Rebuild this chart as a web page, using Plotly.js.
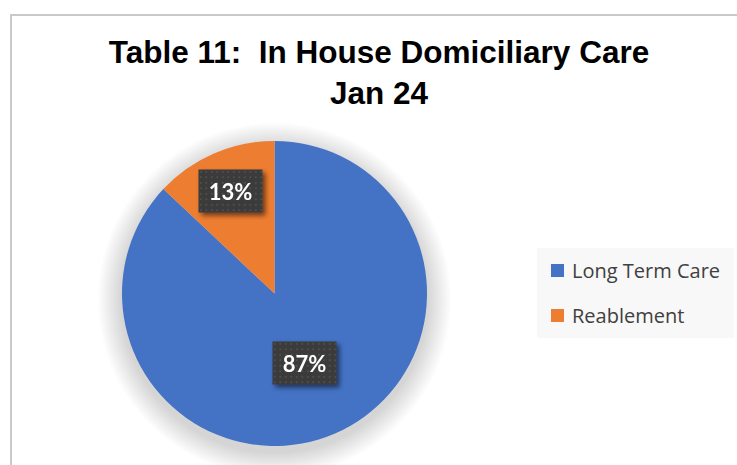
<!DOCTYPE html>
<html>
<head>
<meta charset="utf-8">
<script src="https://cdn.plot.ly/plotly-3.0.1.min.js"></script>
<style>html,body{margin:0;padding:0;background:#fff;}#chart{width:737px;height:465px;}</style>
</head>
<body>
<div id="chart"></div>
<script>
// ---- data ----
const labels = ['Long Term Care', 'Reablement'];
const values = [87, 13];
const colors = ['#4472C4', '#ED7D31'];
const titleLines = ['Table 11:&nbsp; In House Domiciliary Care', 'Jan 24'];

// ---- layout constants (pixels) ----
const W = 737, H = 465;
const pieBox = {x0: 122, x1: 427, y0: 141, y1: 446};
const labelRadius = [0.5, 0.73];
const px = x => x / W;
const py = y => 1 - y / H;

const total = values.reduce((a, b) => a + b, 0);
const cx = (pieBox.x0 + pieBox.x1) / 2, cy = (pieBox.y0 + pieBox.y1) / 2;
const R = Math.min(pieBox.x1 - pieBox.x0, pieBox.y1 - pieBox.y0) / 2;

const trace = {
  type: 'pie',
  labels: labels,
  values: values,
  sort: false,
  direction: 'clockwise',
  rotation: 0,
  marker: {colors: colors, line: {width: 0}},
  textinfo: 'none',
  hoverinfo: 'label+percent',
  domain: {x: [px(pieBox.x0), px(pieBox.x1)], y: [py(pieBox.y1), py(pieBox.y0)]},
  showlegend: false
};

// data labels placed at slice mid-angles
const annotations = [];
let cum = 0;
values.forEach((v, i) => {
  const frac = v / total;
  const mid = (cum + frac / 2) * 2 * Math.PI; // clockwise from 12 o'clock
  cum += frac;
  const r = R * labelRadius[i];
  const x = cx + r * Math.sin(mid);
  const y = cy - r * Math.cos(mid);
  annotations.push({
    xref: 'paper', yref: 'paper', x: px(x), y: py(y),
    xanchor: 'center', yanchor: 'middle', showarrow: false,
    text: '<b>' + Math.round(frac * 100) + '%</b>',
    font: {family: 'Lato, sans-serif', size: 22, color: '#ffffff'},
    bgcolor: '#404040', borderpad: 0, width: 63, height: 42,
    name: 'datalabel'
  });
});

const shapes = [
  {type: 'rect', xref: 'paper', yref: 'paper', x0: px(11), x1: 1.05, y0: -0.05, y1: py(15),
   line: {color: '#c9c9c9', width: 2}, fillcolor: 'rgba(0,0,0,0)', layer: 'below'}
];
// soft shadow behind the pie: stacked translucent discs
const shadow = {steps: 14, spread: 24, dy: 6, alpha: 0.013};
for (let k = 0; k < shadow.steps; k++) {
  const rr = R + shadow.spread * (1 - k / shadow.steps);
  shapes.push({type: 'circle', xref: 'paper', yref: 'paper',
    x0: px(cx - rr), x1: px(cx + rr), y0: py(cy + shadow.dy + rr), y1: py(cy + shadow.dy - rr),
    line: {width: 0}, fillcolor: 'rgba(0,0,0,' + shadow.alpha + ')', layer: 'below'});
}

// manual legend (built from labels / colors)
const leg = {x0: 537, x1: 734, y0: 248, y1: 338, sq: 13, sqX: 551, textX: 570, rows: [270.5, 315.5]};
shapes.push({type: 'rect', xref: 'paper', yref: 'paper', x0: px(leg.x0), x1: px(leg.x1), y0: py(leg.y1), y1: py(leg.y0),
   line: {width: 0}, fillcolor: '#f8f8f8', layer: 'below'});
labels.forEach((lab, i) => {
  const yc = leg.rows[i];
  shapes.push({type: 'rect', xref: 'paper', yref: 'paper',
    x0: px(leg.sqX), x1: px(leg.sqX + leg.sq), y0: py(yc + leg.sq / 2), y1: py(yc - leg.sq / 2),
    line: {width: 0}, fillcolor: colors[i], layer: 'below'});
  annotations.push({xref: 'paper', yref: 'paper', x: px(leg.textX), y: py(yc),
    xanchor: 'left', yanchor: 'middle', showarrow: false, text: lab,
    font: {family: '"Open Sans", sans-serif', size: 20, color: '#404040'}});
});

const layout = {
  width: W, height: H,
  margin: {l: 0, r: 0, t: 0, b: 0},
  paper_bgcolor: '#ffffff',
  showlegend: false,
  title: {
    text: titleLines.join('<br>'),
    font: {family: '"Liberation Sans", Arial, sans-serif', size: 31.5, color: '#000000', weight: 'bold'},
    x: px(379), xanchor: 'center', xref: 'paper',
    y: py(63), yanchor: 'top', yref: 'container'
  },
  shapes: shapes,
  annotations: annotations
};

Plotly.newPlot('chart', [trace], layout, {displayModeBar: false, staticPlot: true}).then(gd => {
  const NS = 'http://www.w3.org/2000/svg';
  const svg = gd.querySelector('svg.main-svg');
  let defs = svg.querySelector('defs');
  if (!defs) { defs = document.createElementNS(NS, 'defs'); svg.insertBefore(defs, svg.firstChild); }
  const fl = document.createElementNS(NS, 'filter');
  fl.setAttribute('id', 'lblShadow');
  fl.setAttribute('filterUnits', 'userSpaceOnUse');
  fl.setAttribute('x', '0'); fl.setAttribute('y', '0');
  fl.setAttribute('width', String(W)); fl.setAttribute('height', String(H));
  fl.innerHTML = '<feGaussianBlur in="SourceAlpha" stdDeviation="2.5"/>' +
    '<feOffset dx="3" dy="3"/>' +
    '<feComponentTransfer><feFuncA type="linear" slope="0.55"/></feComponentTransfer>' +
    '<feMerge><feMergeNode/><feMergeNode in="SourceGraphic"/></feMerge>';
  defs.appendChild(fl);
  const pat = document.createElementNS(NS, 'pattern');
  pat.setAttribute('id', 'dots'); pat.setAttribute('patternUnits', 'userSpaceOnUse');
  pat.setAttribute('width', '5.5'); pat.setAttribute('height', '5.5');
  pat.innerHTML = '<rect width="5.5" height="5.5" fill="#3a3a3a"/><rect x="2" y="2" width="1.6" height="1.6" fill="#555555"/>';
  defs.appendChild(pat);
  gd.querySelectorAll('.annotation').forEach(a => {
    const rect = a.querySelector('rect.bg');
    if (rect && /64, ?64, ?64/.test(rect.style.fill)) {
      rect.style.fill = 'url(#dots)';
      const g = a.querySelector('.annotation-text-g') || a;
      g.setAttribute('filter', 'url(#lblShadow)');
    }
  });
});
</script>
</body>
</html>
